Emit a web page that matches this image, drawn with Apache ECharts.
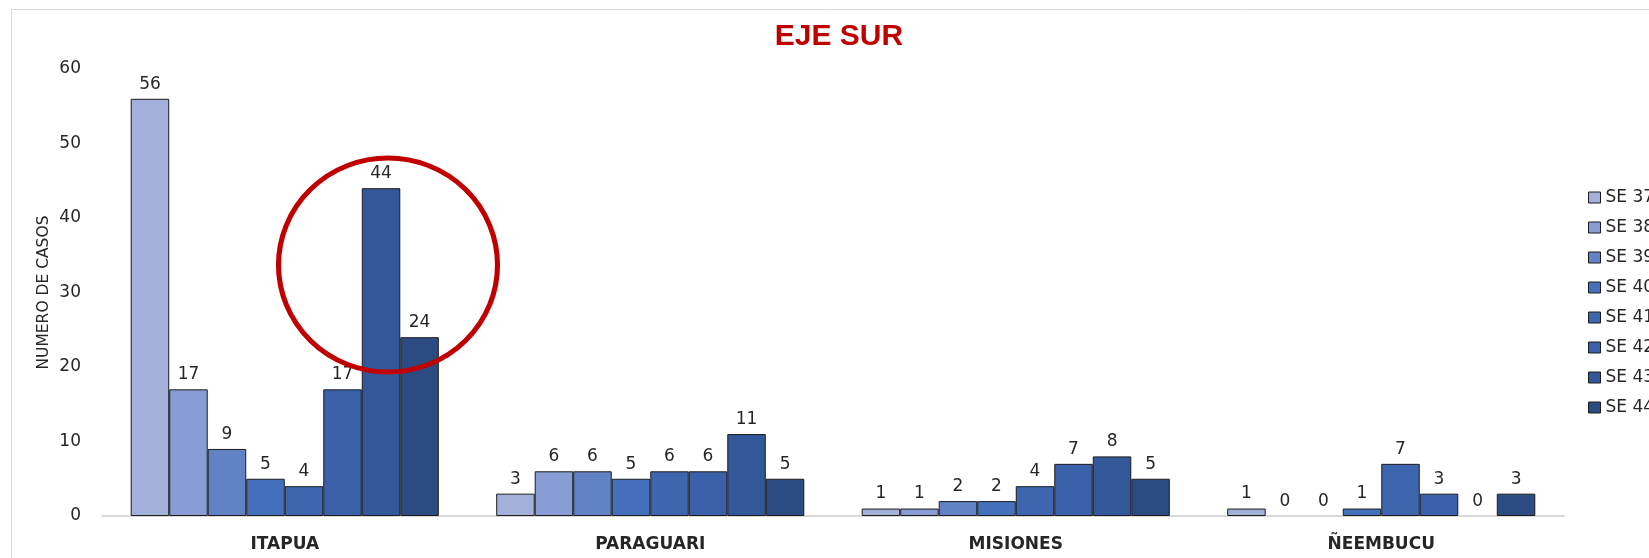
<!DOCTYPE html>
<html>
<head>
<meta charset="utf-8">
<script src="https://cdn.jsdelivr.net/npm/echarts@6/dist/echarts.min.js"></script>
<style>
  html, body { margin: 0; padding: 0; background: #fff; }
  #chart { width: 1649px; height: 558px; }
</style>
</head>
<body>
<div id="chart"></div>
<script>
// departamentos del eje sur
var categories = ['ITAPUA', 'PARAGUARI', 'MISIONES', 'ÑEEMBUCU']
var weeks = ['SE 37', 'SE 38', 'SE 39', 'SE 40', 'SE 41', 'SE 42', 'SE 43', 'SE 44']
var yTicks = [0, 10, 20, 30, 40, 50, 60]

// casos por semana epidemiologica (una columna por departamento)
var se37 = [56, 3, 1, 1]
var se38 = [17, 6, 1, 0]
var se39 = [9, 6, 2, 0]
var se40 = [5, 5, 2, 1]
var se41 = [4, 6, 4, 7]
var se42 = [17, 6, 7, 3]
var se43 = [44, 11, 8, 0]
var se44 = [24, 5, 5, 3]

var weekData = [se37, se38, se39, se40, se41, se42, se43, se44]
var colors = ['#A2B0DA', '#879DD4', '#6282C6', '#4571BC', '#3D66AF', '#3960A8', '#33589A', '#2C4B83']
var txtColor = '#262626'
var font = 'DejaVu Sans'

var chart = echarts.init(document.getElementById('chart'))

var series = weeks.map(function (name, i) {
  return {
    name: name,
    type: 'bar',
    // las barras en cero no llevan borde
    data: weekData[i].map(function (v) {
      return v === 0 ? { value: v, itemStyle: { borderWidth: 0 } } : v
    }),
    barGap: '0%',
    barCategoryGap: '15.7%',
    itemStyle: {
      color: colors[i],
      borderColor: '#1c1c1c',
      borderWidth: 1
    },
    label: {
      show: true,
      position: 'top',
      distance: 6,
      color: txtColor,
      fontSize: 17,
      fontFamily: font
    }
  }
})

var option = {
  animation: false,
  title: {
    text: 'EJE SUR',
    left: 834,
    top: 17,
    textAlign: 'center',
    textStyle: {
      color: '#C00000',
      fontSize: 30,
      fontWeight: 'bold',
      fontFamily: 'Liberation Sans'
    }
  },
  legend: {
    orient: 'vertical',
    left: 1583,
    top: 184,
    itemWidth: 12,
    itemHeight: 11,
    itemGap: 13,
    icon: 'rect',
    textStyle: {
      fontSize: 17,
      color: txtColor,
      fontFamily: font
    },
    itemStyle: { borderColor: '#1c1c1c', borderWidth: 1 },
    data: weeks
  },
  grid: {
    left: 102,
    right: 85,
    top: 69,
    bottom: 42
  },
  xAxis: {
    type: 'category',
    data: categories,
    axisLine: { lineStyle: { color: '#d9d9d9', width: 2 } },
    axisTick: { show: false },
    axisLabel: {
      margin: 20,
      color: txtColor,
      fontSize: 17,
      fontWeight: 'bold',
      fontFamily: font
    }
  },
  yAxis: {
    type: 'value',
    min: yTicks[0],
    max: yTicks[yTicks.length - 1],
    interval: 10,
    name: 'NUMERO DE CASOS',
    nameLocation: 'middle',
    nameMoveOverlap: false,
    nameGap: 50,
    nameTextStyle: {
      color: txtColor,
      fontSize: 15.5,
      fontFamily: font
    },
    splitLine: { show: false },
    axisLine: { show: false },
    axisTick: { show: false },
    axisLabel: {
      margin: 21,
      color: txtColor,
      fontSize: 17,
      fontFamily: font
    }
  },
  graphic: [
    {
      type: 'rect',
      left: 9,
      top: 7,
      shape: { width: 1700, height: 600 },
      style: { fill: 'none', stroke: '#d9d9d9', lineWidth: 1 },
      silent: true,
      z: -1
    },
    {
      // circulo rojo que resalta SE 43 / SE 44 en Itapua
      type: 'circle',
      x: 388,
      y: 265,
      scaleX: 109.5 / 107,
      scaleY: 1,
      shape: { cx: 0, cy: 0, r: 107 },
      style: { fill: 'none', stroke: '#C00000', lineWidth: 5 },
      z: 100
    }
  ],
  series: series
}

chart.setOption(option)
</script>
</body>
</html>
